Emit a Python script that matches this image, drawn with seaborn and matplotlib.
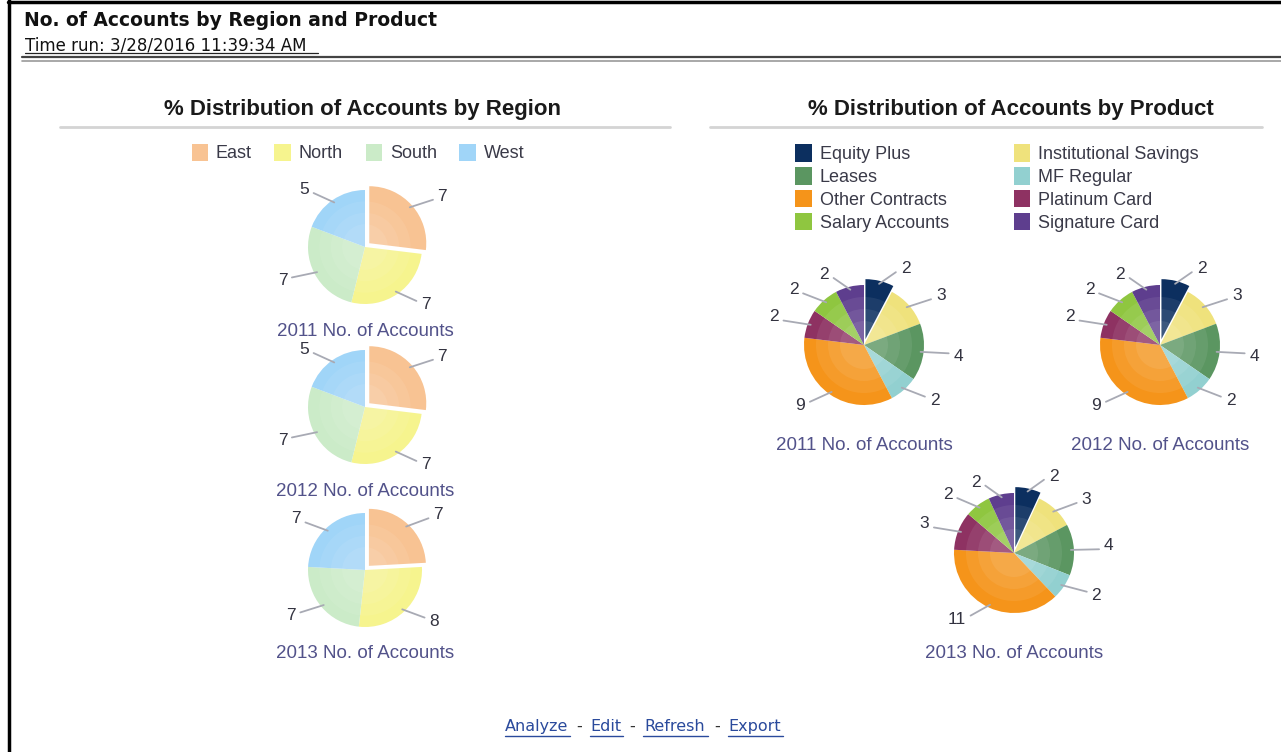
import numpy as np
import matplotlib
matplotlib.use('Agg')
import matplotlib.pyplot as plt
import seaborn as sns
from matplotlib.patches import Patch
from matplotlib.lines import Line2D

# data
years = ['2011', '2012', '2013']
regions = ['East', 'North', 'South', 'West']
region_counts = {
    '2011': [7, 7, 7, 5],
    '2012': [7, 7, 7, 5],
    '2013': [7, 8, 7, 7],
}
products = ['Equity Plus', 'Institutional Savings', 'Leases', 'MF Regular',
            'Other Contracts', 'Platinum Card', 'Salary Accounts', 'Signature Card']
product_counts = {
    '2011': [2, 3, 4, 2, 9, 2, 2, 2],
    '2012': [2, 3, 4, 2, 9, 2, 2, 2],
    '2013': [2, 3, 4, 2, 11, 3, 2, 2],
}
region_colors = sns.color_palette(['#F8C393', '#F6F48E', '#CBEBC8', '#A0D5F8'])
product_colors = sns.color_palette(['#0C2F5F', '#EFE27C', '#5B9661', '#92D0D0',
                                    '#F5941A', '#8E3262', '#8FC640', '#5E3E8E'])

W, H = 1281, 752
sns.set_theme(style='white')
plt.rcParams['font.family'] = ['DejaVu Sans']
ARIAL = ['Liberation Sans', 'DejaVu Sans']

fig = plt.figure(figsize=(W / 100, H / 100), dpi=100)
fig.patch.set_facecolor('white')


def fx(x):
    return x / W


def fy(y):
    return 1 - y / H


def hline(x0, x1, y, color, lw):
    fig.add_artist(Line2D([fx(x0), fx(x1)], [fy(y), fy(y)], color=color, lw=lw,
                          transform=fig.transFigure))


def draw_pie(cx, cy, r, values, colors, caption, cap_off):
    lim = 1.9
    s = 2 * lim * r
    ax = fig.add_axes([fx(cx - s / 2), fy(cy + s / 2), s / W, s / H])
    explode = [0.1] + [0] * (len(values) - 1)
    wedges, _ = ax.pie(values, colors=colors, startangle=90, counterclock=False,
                       explode=explode, radius=1, wedgeprops=dict(linewidth=0))
    # soft highlight in the middle
    for rr, a in [(0.8, 0.07), (0.6, 0.07), (0.4, 0.08)]:
        ax.add_patch(plt.Circle((0, 0), rr, color='white', alpha=a, lw=0))
    for w, v in zip(wedges, values):
        ang = np.deg2rad((w.theta1 + w.theta2) / 2)
        ox, oy = w.center
        c, sn = np.cos(ang), np.sin(ang)
        side = 1 if c >= 0 else -1
        x0, y0 = ox + c * 0.95, oy + sn * 0.95
        x1, y1 = ox + c * 1.2 + side * 0.22, oy + sn * 1.15
        ax.plot([x0, x1], [y0, y1], color='#A8AAB4', lw=1.3)
        ax.text(x1 + side * 0.08, y1 + 0.06 * np.sign(sn), str(v),
                ha='left' if side > 0 else 'right', va='center',
                fontsize=12.5, color='#333340', family=ARIAL)
    ax.set_xlim(-lim, lim)
    ax.set_ylim(-lim, lim)
    ax.axis('off')
    fig.text(fx(cx), fy(cy + cap_off), caption, ha='center', va='center',
             fontsize=13.5, color='#52528A', family=ARIAL)


# frame and header
fig.add_artist(Line2D([fx(9), fx(9)], [0, 1], color='black', lw=2.5, transform=fig.transFigure))
hline(8, W, 1.5, 'black', 2.5)
fig.text(fx(24), fy(20), 'No. of Accounts by Region and Product', ha='left', va='center',
         fontsize=13.5, fontweight='bold', color='#111111')
fig.text(fx(25), fy(45), 'Time run: 3/28/2016 11:39:34 AM', ha='left', va='center',
         fontsize=12, color='#111111')
hline(25, 318, 53, '#222222', 0.9)
hline(22, W, 57, '#444444', 1.6)
hline(22, W, 61, '#999999', 1.2)

# panel titles
fig.text(fx(363), fy(110), '% Distribution of Accounts by Region', ha='center', va='center',
         fontsize=16, fontweight='bold', color='#1A1A1A', family=ARIAL)
fig.text(fx(1011), fy(110), '% Distribution of Accounts by Product', ha='center', va='center',
         fontsize=16, fontweight='bold', color='#1A1A1A', family=ARIAL)
hline(60, 670, 127, '#D4D4D4', 2)
hline(710, 1262, 127, '#D4D4D4', 2)

# legends
reg_handles = [Patch(facecolor=c, edgecolor='none', label=l) for c, l in zip(region_colors, regions)]
fig.legend(handles=reg_handles, loc='center', bbox_to_anchor=(fx(358), fy(153)), ncol=4,
           frameon=False, prop={'family': ARIAL, 'size': 13}, handlelength=0.9,
           handleheight=1.1, handletextpad=0.45, columnspacing=1.25, labelcolor='#3A3A48')

order = [0, 2, 4, 6, 1, 3, 5, 7]
prod_handles = [Patch(facecolor=product_colors[i], edgecolor='none', label=products[i]) for i in order]
fig.legend(handles=prod_handles, loc='center', bbox_to_anchor=(fx(997), fy(188)), ncol=2,
           frameon=False, prop={'family': ARIAL, 'size': 13}, handlelength=0.9,
           handleheight=1.1, handletextpad=0.45, columnspacing=3.6, labelspacing=0.22,
           labelcolor='#3A3A48')

# pies
region_centers = [(365, 247), (365, 407), (365, 570)]
for y, (cx, cy) in zip(years, region_centers):
    draw_pie(cx, cy, 57, region_counts[y], region_colors, f'{y} No. of Accounts', 84)

product_centers = [(864, 345), (1160, 345), (1014, 553)]
for y, (cx, cy) in zip(years, product_centers):
    draw_pie(cx, cy, 60, product_counts[y], product_colors, f'{y} No. of Accounts', 101)

# footer links
links = [('Analyze', 537), ('Edit', 606), ('Refresh', 675), ('Export', 755)]
for txt, x in links:
    fig.text(fx(x), fy(731), txt, ha='center', va='baseline', fontsize=11.5, color='#2A4A9C')
for x in [579, 632, 717]:
    fig.text(fx(x), fy(731), '-', ha='center', va='baseline', fontsize=11.5, color='#333333')
for x0, x1 in [(505, 570), (590, 623), (643, 708), (728, 783)]:
    hline(x0, x1, 736, '#2A4A9C', 1)

fig.savefig('out.png', dpi=100)
